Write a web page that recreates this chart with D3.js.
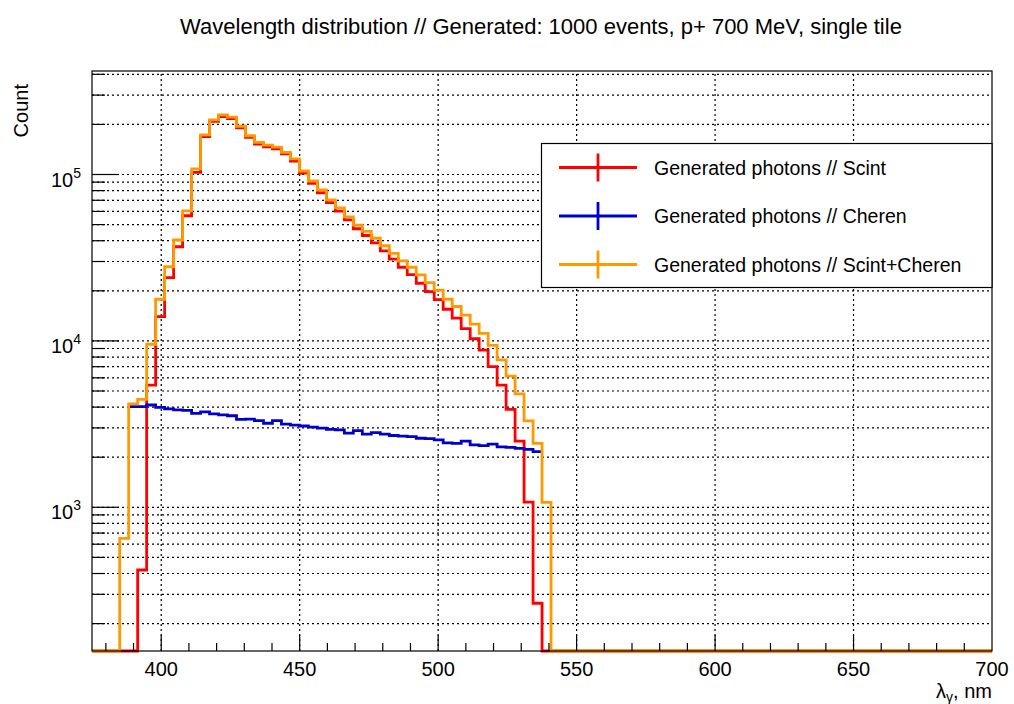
<!DOCTYPE html>
<meta charset="utf-8" />
<html>
  <head>
    <script src="https://d3js.org/d3.v7.min.js"></script>
    <style>
      body {
        margin: 0;
        background-color: white;
        font-family: "Liberation Sans", Arial, sans-serif;
      }
    </style>
  </head>
  <body>
    <div id="chart"></div>
  </body>

  <script>
    // bins: 48 bins starting at 385 nm, ~3.245 nm wide
    const binStart = 385;
    const binWidth = 3.245;

    const scintCounts = [
      0, 0, 420, 5430, 14000, 24000, 36800, 56500, 103000, 169000,
      209000, 223000, 217000, 191000, 167000, 152500, 146800, 142500, 133000, 120500,
      102000, 88400, 77700, 67800, 60300, 53300, 47200, 43000, 38800, 34800,
      31000, 27700, 25000, 22200, 19800, 17700, 15500, 13700, 11850, 10300,
      8800, 7000, 5420, 3880, 2500, 1075, 265, 0
    ];
    const cherenCounts = [
      0, 4030, 4030, 4120, 3990, 3900, 3850, 3820, 3670, 3740,
      3640, 3590, 3550, 3380, 3390, 3320, 3200, 3320, 3165, 3120,
      3080, 3030, 2990, 2940, 2920, 2790, 2890, 2750, 2810, 2750,
      2700, 2680, 2660, 2600, 2590, 2540, 2440, 2420, 2500, 2370,
      2350, 2400, 2310, 2290, 2260, 2230, 2160, 0
    ];
    const sumCounts = [
      650, 4180, 4450, 9550, 17800, 27900, 40400, 60400, 108000, 173000,
      213000, 228000, 221000, 195000, 171000, 156000, 150000, 146000, 136000, 124000,
      105000, 91400, 80700, 70300, 63100, 55700, 49700, 45500, 41400, 37300,
      33600, 30300, 27700, 24900, 22400, 20200, 17800, 16100, 14300, 12600,
      11100, 9400, 7700, 6150, 4800, 3310, 2420, 1070
    ];

    const seriesNames = [
      "Generated photons // Scint",
      "Generated photons // Cheren",
      "Generated photons // Scint+Cheren"
    ];
    const seriesColors = ["#ff0000", "#0000cc", "#ff9900"];

    const xTickValues = [400, 450, 500, 550, 600, 650, 700];
    const yMajorTicks = [1e3, 1e4, 1e5];

    const width = 1014, height = 704;
    const margin = {top: 71, right: 22, bottom: 53, left: 92};

    const svg = d3.select("#chart").append("svg")
      .attr("width", width)
      .attr("height", height)
      .style("font-family", '"Liberation Sans", Arial, sans-serif');

    const x = d3.scaleLinear()
      .domain([375, 700])
      .range([margin.left, width - margin.right]);

    const y = d3.scaleLog()
      .domain([136.9, 418800])
      .range([height - margin.bottom, margin.top]);

    const x0 = x.range()[0], x1 = x.range()[1];
    const y0 = y.range()[0], y1 = y.range()[1];

    // minor ticks for log axis
    const yMinorTicks = [];
    for (let e = 2; e <= 5; e++) {
      for (let m = 1; m <= 9; m++) {
        const v = m * Math.pow(10, e);
        if (v >= y.domain()[0] && v <= y.domain()[1]) yMinorTicks.push(v);
      }
    }
    const xMinorTicks = d3.range(380, 700, 10);

    // grid
    const grid = svg.append("g")
      .attr("stroke", "black")
      .attr("stroke-width", 1.2)
      .attr("stroke-dasharray", "2,3");

    grid.selectAll(".gx")
      .data(xTickValues.filter(d => d < 700))
      .join("line")
        .attr("x1", d => x(d)).attr("x2", d => x(d))
        .attr("y1", y0).attr("y2", y1);

    grid.selectAll(".gy")
      .data(yMinorTicks)
      .join("line")
        .attr("x1", x0).attr("x2", x1)
        .attr("y1", d => y(d)).attr("y2", d => y(d));

    const stepPath = (counts, edgesDown) => {
      const pts = [];
      let first = counts.findIndex(c => c > 0);
      let last = counts.length - 1 - [...counts].reverse().findIndex(c => c > 0);
      const yv = c => c > 0 ? y(c) : y0;
      if (edgesDown) {
        pts.push([x0, y0]);
        pts.push([x(binStart + first * binWidth), y0]);
      }
      for (let k = first; k <= last; k++) {
        const xl = x(binStart + k * binWidth);
        const xr = x(binStart + (k + 1) * binWidth);
        pts.push([xl, yv(counts[k])]);
        pts.push([xr, yv(counts[k])]);
      }
      if (edgesDown) {
        pts.push([x(binStart + (last + 1) * binWidth), y0]);
        pts.push([x1, y0]);
      }
      return d3.line()(pts);
    };

    const hists = svg.append("g")
      .attr("fill", "none")
      .attr("stroke-width", 2.8)
      .attr("stroke-linejoin", "miter");

    hists.append("path").attr("d", stepPath(scintCounts, true)).attr("stroke", seriesColors[0]);
    hists.append("path").attr("d", stepPath(cherenCounts, false)).attr("stroke", seriesColors[1]);
    hists.append("path").attr("d", stepPath(sumCounts, true)).attr("stroke", seriesColors[2]);

    // frame
    svg.append("rect")
      .attr("x", x0).attr("y", y1)
      .attr("width", x1 - x0).attr("height", y0 - y1)
      .attr("fill", "none")
      .attr("stroke", "black")
      .attr("stroke-width", 1.2);

    // ticks
    const axes = svg.append("g").attr("stroke", "black").attr("stroke-width", 1.2);
    axes.selectAll(".xt")
      .data(xMinorTicks)
      .join("line")
        .attr("x1", d => x(d)).attr("x2", d => x(d))
        .attr("y1", y0).attr("y2", d => y0 - (d % 50 === 0 ? 16 : 8));

    axes.selectAll(".yt")
      .data(yMinorTicks)
      .join("line")
        .attr("y1", d => y(d)).attr("y2", d => y(d))
        .attr("x1", x0).attr("x2", d => x0 + (yMajorTicks.includes(d) ? 27 : 13));

    svg.append("g")
      .selectAll("text")
      .data(xTickValues)
      .join("text")
        .attr("x", d => x(d))
        .attr("y", 676)
        .attr("text-anchor", "middle")
        .style("font-size", "20px")
        .text(d => d);

    const yl = svg.append("g")
      .selectAll("text")
      .data(yMajorTicks)
      .join("text")
        .attr("x", 81)
        .attr("y", d => y(d) + 12)
        .attr("text-anchor", "end")
        .style("font-size", "20px");
    yl.append("tspan").text("10");
    yl.append("tspan")
      .attr("dy", -9)
      .style("font-size", "14px")
      .text(d => Math.round(Math.log10(d)));

    // titles
    svg.append("text")
      .attr("x", 541)
      .attr("y", 34)
      .attr("text-anchor", "middle")
      .style("font-size", "22px")
      .text("Wavelength distribution // Generated: 1000 events, p+ 700 MeV, single tile");

    svg.append("text")
      .attr("transform", `translate(28,84) rotate(-90)`)
      .attr("text-anchor", "end")
      .style("font-size", "20px")
      .text("Count");

    const xt = svg.append("text")
      .attr("x", x1)
      .attr("y", 698)
      .attr("text-anchor", "end")
      .style("font-size", "20px");
    xt.append("tspan").text("λ");
    xt.append("tspan").attr("dy", 4).style("font-size", "14px").text("γ");
    xt.append("tspan").attr("dy", -4).text(", nm");

    // legend
    const legend = svg.append("g");
    legend.append("rect")
      .attr("x", 541.5).attr("y", 143.5)
      .attr("width", x1 - 541.5).attr("height", 144)
      .attr("fill", "white")
      .attr("stroke", "black")
      .attr("stroke-width", 1.2);

    const rows = legend.selectAll(".row")
      .data(seriesNames)
      .join("g")
        .attr("transform", (d, i) => `translate(0,${167.5 + i * 48.5})`);
    rows.append("line")
      .attr("x1", 559).attr("x2", 637).attr("y1", 0).attr("y2", 0)
      .attr("stroke", (d, i) => seriesColors[i]).attr("stroke-width", 2.8);
    rows.append("line")
      .attr("x1", 598).attr("x2", 598).attr("y1", -14).attr("y2", 14)
      .attr("stroke", (d, i) => seriesColors[i]).attr("stroke-width", 2.8);
    rows.append("text")
      .attr("x", 654)
      .attr("y", 7)
      .style("font-size", "19.5px")
      .text(d => d);
  </script>
</html>
